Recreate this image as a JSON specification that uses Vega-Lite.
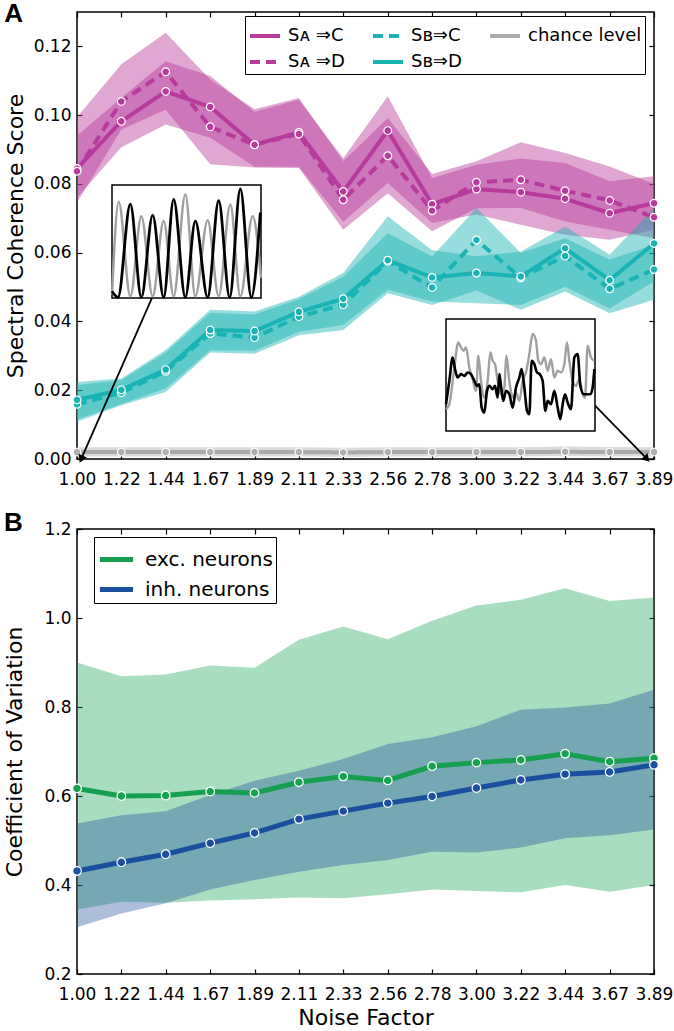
{
  "$schema": "https://vega.github.io/schema/vega-lite/v6.json",
  "background": "white",
  "padding": {"left": 3, "top": 0, "right": 0, "bottom": 0},
  "spacing": 21,
  "config": {
    "font": "DejaVu Sans",
    "view": {"stroke": "black", "strokeWidth": 1.5},
    "axis": {"domain": false, "grid": false, "tickColor": "black", "tickSize": -5, "tickWidth": 1.2, "labelFont": "DejaVu Sans", "labelFontSize": 17, "labelColor": "black", "titleFont": "DejaVu Sans", "titleFontSize": 22, "titleFontWeight": "normal", "titleColor": "black", "labelPadding": 11, "titlePadding": 6, "labelFlush": false, "labelOverlap": false},
    "legend": {"labelColor": "black", "labelFont": "DejaVu Sans", "zindex": 5},
    "title": {"font": "Liberation Sans", "fontSize": 26, "fontWeight": "bold", "anchor": "start", "frame": "bounds", "color": "black", "baseline": "alphabetic", "offset": 0, "dy": 20}
  },
  "datasets": {
    "A": [
      {"x":1,"s":"Sᴀ ⇒C","m":0.0845,"lo":0.076,"hi":0.094},
      {"x":1.222,"s":"Sᴀ ⇒C","m":0.0982,"lo":0.0907,"hi":0.105},
      {"x":1.444,"s":"Sᴀ ⇒C","m":0.1069,"lo":0.0973,"hi":0.1157},
      {"x":1.667,"s":"Sᴀ ⇒C","m":0.1024,"lo":0.0934,"hi":0.1114},
      {"x":1.889,"s":"Sᴀ ⇒C","m":0.0914,"lo":0.085,"hi":0.101},
      {"x":2.111,"s":"Sᴀ ⇒C","m":0.095,"lo":0.085,"hi":0.1045},
      {"x":2.333,"s":"Sᴀ ⇒C","m":0.0778,"lo":0.069,"hi":0.0875},
      {"x":2.556,"s":"Sᴀ ⇒C","m":0.0955,"lo":0.0803,"hi":0.1055},
      {"x":2.778,"s":"Sᴀ ⇒C","m":0.0741,"lo":0.0686,"hi":0.0817},
      {"x":3,"s":"Sᴀ ⇒C","m":0.0785,"lo":0.0711,"hi":0.0856},
      {"x":3.222,"s":"Sᴀ ⇒C","m":0.0776,"lo":0.0681,"hi":0.0874},
      {"x":3.444,"s":"Sᴀ ⇒C","m":0.0757,"lo":0.0652,"hi":0.0861},
      {"x":3.667,"s":"Sᴀ ⇒C","m":0.0715,"lo":0.0638,"hi":0.0808},
      {"x":3.889,"s":"Sᴀ ⇒C","m":0.0744,"lo":0.0667,"hi":0.0822},
      {"x":1,"s":"Sᴀ ⇒D","m":0.0837,"lo":0.0745,"hi":0.0994},
      {"x":1.222,"s":"Sᴀ ⇒D","m":0.104,"lo":0.0958,"hi":0.1148},
      {"x":1.444,"s":"Sᴀ ⇒D","m":0.1126,"lo":0.1016,"hi":0.124},
      {"x":1.667,"s":"Sᴀ ⇒D","m":0.0966,"lo":0.0857,"hi":0.1104},
      {"x":1.889,"s":"Sᴀ ⇒D","m":0.0914,"lo":0.0848,"hi":0.1017},
      {"x":2.111,"s":"Sᴀ ⇒D","m":0.0945,"lo":0.0846,"hi":0.105},
      {"x":2.333,"s":"Sᴀ ⇒D","m":0.0754,"lo":0.0667,"hi":0.0866},
      {"x":2.556,"s":"Sᴀ ⇒D","m":0.0882,"lo":0.0773,"hi":0.0992},
      {"x":2.778,"s":"Sᴀ ⇒D","m":0.0722,"lo":0.0662,"hi":0.0829},
      {"x":3,"s":"Sᴀ ⇒D","m":0.0805,"lo":0.0729,"hi":0.0866},
      {"x":3.222,"s":"Sᴀ ⇒D","m":0.0812,"lo":0.073,"hi":0.0921},
      {"x":3.444,"s":"Sᴀ ⇒D","m":0.078,"lo":0.0691,"hi":0.089},
      {"x":3.667,"s":"Sᴀ ⇒D","m":0.0752,"lo":0.0667,"hi":0.0851},
      {"x":3.889,"s":"Sᴀ ⇒D","m":0.0703,"lo":0.0642,"hi":0.08},
      {"x":1,"s":"Sʙ⇒C","m":0.0159,"lo":0.0108,"hi":0.0215},
      {"x":1.222,"s":"Sʙ⇒C","m":0.0193,"lo":0.0156,"hi":0.023},
      {"x":1.444,"s":"Sʙ⇒C","m":0.0255,"lo":0.0195,"hi":0.031},
      {"x":1.667,"s":"Sʙ⇒C","m":0.0365,"lo":0.031,"hi":0.0425},
      {"x":1.889,"s":"Sʙ⇒C","m":0.0353,"lo":0.0306,"hi":0.042},
      {"x":2.111,"s":"Sʙ⇒C","m":0.0414,"lo":0.036,"hi":0.0465},
      {"x":2.333,"s":"Sʙ⇒C","m":0.0449,"lo":0.0375,"hi":0.053},
      {"x":2.556,"s":"Sʙ⇒C","m":0.0575,"lo":0.0482,"hi":0.0657},
      {"x":2.778,"s":"Sʙ⇒C","m":0.0499,"lo":0.0448,"hi":0.0589},
      {"x":3,"s":"Sʙ⇒C","m":0.0637,"lo":0.049,"hi":0.073},
      {"x":3.222,"s":"Sʙ⇒C","m":0.0527,"lo":0.0434,"hi":0.06},
      {"x":3.444,"s":"Sʙ⇒C","m":0.059,"lo":0.0487,"hi":0.0642},
      {"x":3.667,"s":"Sʙ⇒C","m":0.0495,"lo":0.0424,"hi":0.058},
      {"x":3.889,"s":"Sʙ⇒C","m":0.0551,"lo":0.0463,"hi":0.0623},
      {"x":1,"s":"Sʙ⇒D","m":0.0172,"lo":0.0115,"hi":0.0224},
      {"x":1.222,"s":"Sʙ⇒D","m":0.0201,"lo":0.016,"hi":0.0234},
      {"x":1.444,"s":"Sʙ⇒D","m":0.026,"lo":0.0205,"hi":0.0317},
      {"x":1.667,"s":"Sʙ⇒D","m":0.0375,"lo":0.0316,"hi":0.0434},
      {"x":1.889,"s":"Sʙ⇒D","m":0.0372,"lo":0.0315,"hi":0.0429},
      {"x":2.111,"s":"Sʙ⇒D","m":0.0428,"lo":0.037,"hi":0.0472},
      {"x":2.333,"s":"Sʙ⇒D","m":0.0466,"lo":0.039,"hi":0.0541},
      {"x":2.556,"s":"Sʙ⇒D","m":0.0578,"lo":0.0492,"hi":0.0706},
      {"x":2.778,"s":"Sʙ⇒D","m":0.0528,"lo":0.0458,"hi":0.0607},
      {"x":3,"s":"Sʙ⇒D","m":0.0541,"lo":0.0453,"hi":0.059},
      {"x":3.222,"s":"Sʙ⇒D","m":0.0531,"lo":0.0448,"hi":0.0603},
      {"x":3.444,"s":"Sʙ⇒D","m":0.0613,"lo":0.0501,"hi":0.0676},
      {"x":3.667,"s":"Sʙ⇒D","m":0.052,"lo":0.0438,"hi":0.0594},
      {"x":3.889,"s":"Sʙ⇒D","m":0.0627,"lo":0.0516,"hi":0.073},
      {"x":1,"s":"chance level","m":0.002,"lo":0.0007,"hi":0.0034},
      {"x":1.222,"s":"chance level","m":0.002,"lo":0.0007,"hi":0.0034},
      {"x":1.444,"s":"chance level","m":0.002,"lo":0.0007,"hi":0.0034},
      {"x":1.667,"s":"chance level","m":0.002,"lo":0.0007,"hi":0.0034},
      {"x":1.889,"s":"chance level","m":0.002,"lo":0.0007,"hi":0.0034},
      {"x":2.111,"s":"chance level","m":0.002,"lo":0.0007,"hi":0.0034},
      {"x":2.333,"s":"chance level","m":0.0019,"lo":0.0006,"hi":0.0033},
      {"x":2.556,"s":"chance level","m":0.002,"lo":0.0007,"hi":0.0034},
      {"x":2.778,"s":"chance level","m":0.002,"lo":0.0007,"hi":0.0034},
      {"x":3,"s":"chance level","m":0.002,"lo":0.0007,"hi":0.0034},
      {"x":3.222,"s":"chance level","m":0.002,"lo":0.0007,"hi":0.0034},
      {"x":3.444,"s":"chance level","m":0.0021,"lo":0.0008,"hi":0.0036},
      {"x":3.667,"s":"chance level","m":0.002,"lo":0.0007,"hi":0.0035},
      {"x":3.889,"s":"chance level","m":0.002,"lo":0.0007,"hi":0.0034}
    ],
    "arr": [
      {"a":1,"x":1.376,"y":0.0469,"x2":1.0235,"y2":0.0003},
      {"a":2,"x":3.594,"y":0.0155,"x2":3.849,"y2":0.0003}
    ],
    "in1": [
      {"tr":"g","t":0,"v":10},{"tr":"g","t":20,"v":287},{"tr":"g","t":55,"v":5},{"tr":"g","t":88,"v":244},{"tr":"g","t":122,"v":5},{"tr":"g","t":155,"v":230},{"tr":"g","t":185,"v":5},{"tr":"g","t":220,"v":309},{"tr":"g","t":250,"v":5},{"tr":"g","t":287,"v":232},{"tr":"g","t":320,"v":5},{"tr":"g","t":355,"v":279},{"tr":"g","t":385,"v":5},{"tr":"g","t":422,"v":244},{"tr":"g","t":447,"v":60},
      {"tr":"k","t":0,"v":20},{"tr":"k","t":18,"v":2},{"tr":"k","t":55,"v":280},{"tr":"k","t":88,"v":2},{"tr":"k","t":122,"v":247},{"tr":"k","t":155,"v":2},{"tr":"k","t":185,"v":294},{"tr":"k","t":220,"v":2},{"tr":"k","t":250,"v":229},{"tr":"k","t":287,"v":2},{"tr":"k","t":320,"v":290},{"tr":"k","t":353,"v":2},{"tr":"k","t":385,"v":325},{"tr":"k","t":418,"v":2},{"tr":"k","t":445,"v":255}
    ],
    "in2": [
      {"tr":"g","t":0,"v":65},{"tr":"g","t":10,"v":80},{"tr":"g","t":25,"v":190},{"tr":"g","t":37,"v":265},{"tr":"g","t":45,"v":250},{"tr":"g","t":53,"v":240},{"tr":"g","t":60,"v":250},{"tr":"g","t":70,"v":190},{"tr":"g","t":80,"v":155},{"tr":"g","t":90,"v":120},{"tr":"g","t":97,"v":225},{"tr":"g","t":105,"v":150},{"tr":"g","t":115,"v":100},{"tr":"g","t":125,"v":150},{"tr":"g","t":133,"v":235},{"tr":"g","t":140,"v":210},{"tr":"g","t":147,"v":200},{"tr":"g","t":155,"v":150},{"tr":"g","t":165,"v":110},{"tr":"g","t":175,"v":130},{"tr":"g","t":181,"v":225},{"tr":"g","t":190,"v":150},{"tr":"g","t":200,"v":100},{"tr":"g","t":210,"v":115},{"tr":"g","t":220,"v":90},{"tr":"g","t":230,"v":150},{"tr":"g","t":240,"v":175},{"tr":"g","t":250,"v":230},{"tr":"g","t":260,"v":290},{"tr":"g","t":270,"v":270},{"tr":"g","t":277,"v":210},{"tr":"g","t":285,"v":200},{"tr":"g","t":295,"v":220},{"tr":"g","t":305,"v":180},{"tr":"g","t":315,"v":215},{"tr":"g","t":325,"v":160},{"tr":"g","t":335,"v":180},{"tr":"g","t":345,"v":175},{"tr":"g","t":355,"v":200},{"tr":"g","t":363,"v":265},{"tr":"g","t":370,"v":210},{"tr":"g","t":380,"v":150},{"tr":"g","t":390,"v":135},{"tr":"g","t":400,"v":155},{"tr":"g","t":410,"v":110},{"tr":"g","t":417,"v":100},{"tr":"g","t":425,"v":255},{"tr":"g","t":435,"v":220},{"tr":"g","t":445,"v":210},
      {"tr":"k","t":0,"v":80},{"tr":"k","t":10,"v":150},{"tr":"k","t":20,"v":220},{"tr":"k","t":27,"v":185},{"tr":"k","t":35,"v":160},{"tr":"k","t":45,"v":170},{"tr":"k","t":55,"v":165},{"tr":"k","t":65,"v":175},{"tr":"k","t":75,"v":170},{"tr":"k","t":85,"v":150},{"tr":"k","t":93,"v":135},{"tr":"k","t":100,"v":140},{"tr":"k","t":107,"v":70},{"tr":"k","t":115,"v":55},{"tr":"k","t":123,"v":120},{"tr":"k","t":130,"v":135},{"tr":"k","t":140,"v":125},{"tr":"k","t":147,"v":135},{"tr":"k","t":155,"v":100},{"tr":"k","t":160,"v":170},{"tr":"k","t":165,"v":135},{"tr":"k","t":172,"v":90},{"tr":"k","t":180,"v":120},{"tr":"k","t":190,"v":110},{"tr":"k","t":200,"v":70},{"tr":"k","t":210,"v":130},{"tr":"k","t":220,"v":160},{"tr":"k","t":227,"v":185},{"tr":"k","t":235,"v":130},{"tr":"k","t":243,"v":60},{"tr":"k","t":250,"v":50},{"tr":"k","t":257,"v":210},{"tr":"k","t":265,"v":200},{"tr":"k","t":273,"v":175},{"tr":"k","t":281,"v":170},{"tr":"k","t":290,"v":150},{"tr":"k","t":298,"v":60},{"tr":"k","t":305,"v":90},{"tr":"k","t":315,"v":80},{"tr":"k","t":325,"v":120},{"tr":"k","t":335,"v":70},{"tr":"k","t":343,"v":35},{"tr":"k","t":350,"v":80},{"tr":"k","t":357,"v":110},{"tr":"k","t":365,"v":85},{"tr":"k","t":375,"v":65},{"tr":"k","t":385,"v":220},{"tr":"k","t":395,"v":230},{"tr":"k","t":403,"v":135},{"tr":"k","t":413,"v":110},{"tr":"k","t":423,"v":110},{"tr":"k","t":433,"v":110},{"tr":"k","t":440,"v":130},{"tr":"k","t":445,"v":185}
    ],
    "B": [
      {"x":1,"g":"exc. neurons","m":0.617,"lo":0.345,"hi":0.9},
      {"x":1.222,"g":"exc. neurons","m":0.6,"lo":0.3625,"hi":0.869},
      {"x":1.444,"g":"exc. neurons","m":0.601,"lo":0.36,"hi":0.873},
      {"x":1.667,"g":"exc. neurons","m":0.61,"lo":0.365,"hi":0.893},
      {"x":1.889,"g":"exc. neurons","m":0.607,"lo":0.368,"hi":0.888},
      {"x":2.111,"g":"exc. neurons","m":0.631,"lo":0.372,"hi":0.951},
      {"x":2.333,"g":"exc. neurons","m":0.644,"lo":0.37,"hi":0.981},
      {"x":2.556,"g":"exc. neurons","m":0.635,"lo":0.379,"hi":0.952},
      {"x":2.778,"g":"exc. neurons","m":0.667,"lo":0.39,"hi":0.994},
      {"x":3,"g":"exc. neurons","m":0.675,"lo":0.3865,"hi":1.028},
      {"x":3.222,"g":"exc. neurons","m":0.681,"lo":0.3835,"hi":1.041},
      {"x":3.444,"g":"exc. neurons","m":0.695,"lo":0.4,"hi":1.067},
      {"x":3.667,"g":"exc. neurons","m":0.677,"lo":0.385,"hi":1.038},
      {"x":3.889,"g":"exc. neurons","m":0.685,"lo":0.4,"hi":1.046},
      {"x":1,"g":"inh. neurons","m":0.4315,"lo":0.305,"hi":0.538},
      {"x":1.222,"g":"inh. neurons","m":0.451,"lo":0.336,"hi":0.557},
      {"x":1.444,"g":"inh. neurons","m":0.469,"lo":0.359,"hi":0.566},
      {"x":1.667,"g":"inh. neurons","m":0.494,"lo":0.39,"hi":0.602},
      {"x":1.889,"g":"inh. neurons","m":0.517,"lo":0.411,"hi":0.634},
      {"x":2.111,"g":"inh. neurons","m":0.548,"lo":0.43,"hi":0.657},
      {"x":2.333,"g":"inh. neurons","m":0.566,"lo":0.445,"hi":0.683},
      {"x":2.556,"g":"inh. neurons","m":0.584,"lo":0.456,"hi":0.717},
      {"x":2.778,"g":"inh. neurons","m":0.599,"lo":0.475,"hi":0.732},
      {"x":3,"g":"inh. neurons","m":0.618,"lo":0.473,"hi":0.757},
      {"x":3.222,"g":"inh. neurons","m":0.636,"lo":0.484,"hi":0.794},
      {"x":3.444,"g":"inh. neurons","m":0.649,"lo":0.505,"hi":0.799},
      {"x":3.667,"g":"inh. neurons","m":0.654,"lo":0.512,"hi":0.808},
      {"x":3.889,"g":"inh. neurons","m":0.67,"lo":0.525,"hi":0.839}
    ]
  },
  "vconcat": [
    {
      "width": 577,
      "height": 447,
      "title": {"text": "A"},
      "resolve": {"scale": {"x": "independent", "y": "independent"}},
      "layer": [
        {
          "resolve": {"axis": {"x": "independent", "y": "independent"}},
          "layer": [
            {
              "data": {"name": "A"},
              "mark": {"type": "area", "opacity": 0.45},
              "encoding": {
                "x": {"field": "x", "type": "quantitative", "scale": {"domain": [1, 3.889], "nice": false, "zero": false}, "axis": {"orient": "bottom", "values": [1,1.222,1.444,1.667,1.889,2.111,2.333,2.556,2.778,3,3.222,3.444,3.667,3.889], "format": ".2f", "title": null, "labelPadding": 17}},
                "y": {"field": "lo", "type": "quantitative", "scale": {"domain": [0, 0.13], "nice": false, "zero": false}, "axis": {"orient": "left", "values": [0,0.02,0.04,0.06,0.08,0.1,0.12], "format": ".2f", "title": "Spectral Coherence Score", "titlePadding": 6}},
                "y2": {"field": "hi"},
                "fill": {"field": "s", "type": "nominal", "scale": {"domain": ["Sᴀ ⇒C", "Sᴀ ⇒D", "Sʙ⇒C", "Sʙ⇒D", "chance level", "exc. neurons", "inh. neurons"], "range": ["#b83b9c", "#b83b9c", "#1ab3b3", "#1ab3b3", "#b0b0b0", "#17a251", "#1d4f9e"]}, "legend": null}
              }
            },
            {
              "data": {"name": "A"},
              "mark": {"type": "line", "strokeWidth": 4},
              "encoding": {
                "x": {"field": "x", "type": "quantitative", "axis": {"orient": "top", "values": [1,1.222,1.444,1.667,1.889,2.111,2.333,2.556,2.778,3,3.222,3.444,3.667,3.889], "labels": false, "title": null}},
                "y": {"field": "m", "type": "quantitative", "axis": {"orient": "right", "values": [0,0.02,0.04,0.06,0.08,0.1,0.12], "labels": false, "title": null}},
                "color": {"field": "s", "type": "nominal", "scale": {"domain": ["Sᴀ ⇒C", "Sᴀ ⇒D", "Sʙ⇒C", "Sʙ⇒D", "chance level"], "range": ["#b83b9c", "#b83b9c", "#1ab3b3", "#1ab3b3", "#aaaaaa"]},
                  "legend": {"title": null, "orient": "none", "legendX": 168, "legendY": 4, "columns": 3, "columnPadding": 20, "rowPadding": 0, "padding": 3, "strokeColor": "black", "fillColor": "white", "labelFontSize": 18, "symbolType": "stroke", "symbolSize": 900, "symbolStrokeWidth": 4, "labelOffset": 6}},
                "strokeDash": {"field": "s", "type": "nominal", "scale": {"domain": ["Sᴀ ⇒C", "Sᴀ ⇒D", "Sʙ⇒C", "Sʙ⇒D", "chance level"], "range": [[1,0],[10,6],[10,6],[1,0],[1,0]]},
                  "legend": {"title": null, "orient": "none", "legendX": 168, "legendY": 4, "columns": 3, "columnPadding": 20, "rowPadding": 0, "padding": 3, "strokeColor": "black", "fillColor": "white", "labelFontSize": 18, "symbolType": "stroke", "symbolSize": 900, "symbolStrokeWidth": 4, "labelOffset": 6}}
              }
            },
            {
              "data": {"name": "A"},
              "mark": {"type": "point", "filled": true, "size": 60, "stroke": "white", "strokeWidth": 1.2, "opacity": 1},
              "encoding": {
                "x": {"field": "x", "type": "quantitative", "axis": null},
                "y": {"field": "m", "type": "quantitative", "axis": null},
                "fill": {"field": "s", "type": "nominal", "legend": null}
              }
            },
            {
              "data": {"name": "arr"},
              "mark": {"type": "rule", "color": "black", "strokeWidth": 1.8},
              "encoding": {
                "x": {"field": "x", "type": "quantitative", "axis": null},
                "y": {"field": "y", "type": "quantitative", "axis": null},
                "x2": {"field": "x2"},
                "y2": {"field": "y2"}
              }
            },
            {
              "data": {"name": "arr"},
              "transform": [{"filter": "datum.a == 1"}],
              "mark": {"type": "point", "shape": "triangle", "filled": true, "color": "black", "opacity": 1, "size": 80, "angle": 203.5},
              "encoding": {
                "x": {"field": "x2", "type": "quantitative", "axis": null},
                "y": {"field": "y2", "type": "quantitative", "axis": null}
              }
            },
            {
              "data": {"name": "arr"},
              "transform": [{"filter": "datum.a == 2"}],
              "mark": {"type": "point", "shape": "triangle", "filled": true, "color": "black", "opacity": 1, "size": 80, "angle": 135.7},
              "encoding": {
                "x": {"field": "x2", "type": "quantitative", "axis": null},
                "y": {"field": "y2", "type": "quantitative", "axis": null}
              }
            }
          ]
        },
        {
          "layer": [
            {
              "data": {"values": [{}]},
              "mark": {"type": "rect", "fill": "white", "stroke": "black", "strokeWidth": 1.5},
              "encoding": {
                "x": {"datum": 0, "type": "quantitative", "scale": {"domain": [0, 447], "range": [35, 184], "nice": false, "zero": false}, "axis": null},
                "x2": {"datum": 447},
                "y": {"datum": 0, "type": "quantitative", "scale": {"domain": [0, 337], "range": [286, 173], "nice": false, "zero": false}, "axis": null},
                "y2": {"datum": 337}
              }
            },
            {
              "data": {"name": "in1"},
              "transform": [{"filter": "datum.tr == 'g'"}],
              "mark": {"type": "line", "color": "#a0a0a0", "strokeWidth": 2.5, "interpolate": "monotone"},
              "encoding": {"x": {"field": "t", "type": "quantitative", "axis": null}, "y": {"field": "v", "type": "quantitative", "axis": null}}
            },
            {
              "data": {"name": "in1"},
              "transform": [{"filter": "datum.tr == 'k'"}],
              "mark": {"type": "line", "color": "black", "strokeWidth": 2.8, "interpolate": "monotone"},
              "encoding": {"x": {"field": "t", "type": "quantitative", "axis": null}, "y": {"field": "v", "type": "quantitative", "axis": null}}
            }
          ]
        },
        {
          "layer": [
            {
              "data": {"values": [{}]},
              "mark": {"type": "rect", "fill": "white", "stroke": "black", "strokeWidth": 1.5},
              "encoding": {
                "x": {"datum": 0, "type": "quantitative", "scale": {"domain": [0, 447], "range": [369, 518], "nice": false, "zero": false}, "axis": null},
                "x2": {"datum": 447},
                "y": {"datum": 0, "type": "quantitative", "scale": {"domain": [0, 335], "range": [419, 307], "nice": false, "zero": false}, "axis": null},
                "y2": {"datum": 335}
              }
            },
            {
              "data": {"name": "in2"},
              "transform": [{"filter": "datum.tr == 'g'"}],
              "mark": {"type": "line", "color": "#a0a0a0", "strokeWidth": 2.4, "interpolate": "monotone"},
              "encoding": {"x": {"field": "t", "type": "quantitative", "axis": null}, "y": {"field": "v", "type": "quantitative", "axis": null}}
            },
            {
              "data": {"name": "in2"},
              "transform": [{"filter": "datum.tr == 'k'"}],
              "mark": {"type": "line", "color": "black", "strokeWidth": 2.6, "interpolate": "monotone"},
              "encoding": {"x": {"field": "t", "type": "quantitative", "axis": null}, "y": {"field": "v", "type": "quantitative", "axis": null}}
            }
          ]
        }
      ]
    },
    {
      "width": 577,
      "height": 445,
      "title": {"text": "B"},
      "data": {"name": "B"},
      "resolve": {"axis": {"x": "independent", "y": "independent"}},
      "layer": [
        {
          "mark": {"type": "area", "opacity": 0.37},
          "encoding": {
            "x": {"field": "x", "type": "quantitative", "scale": {"domain": [1, 3.889], "nice": false, "zero": false}, "axis": {"orient": "bottom", "values": [1,1.222,1.444,1.667,1.889,2.111,2.333,2.556,2.778,3,3.222,3.444,3.667,3.889], "format": ".2f", "title": "Noise Factor", "titlePadding": 5, "labelPadding": 17}},
            "y": {"field": "lo", "type": "quantitative", "scale": {"domain": [0.2, 1.2], "nice": false, "zero": false}, "axis": {"orient": "left", "values": [0.2,0.4,0.6,0.8,1.0,1.2], "format": ".1f", "title": "Coefficient of Variation", "titlePadding": 17}},
            "y2": {"field": "hi"},
            "fill": {"field": "g", "type": "nominal", "legend": null}
          }
        },
        {
          "mark": {"type": "line", "strokeWidth": 5},
          "encoding": {
            "x": {"field": "x", "type": "quantitative", "axis": {"orient": "top", "values": [1,1.222,1.444,1.667,1.889,2.111,2.333,2.556,2.778,3,3.222,3.444,3.667,3.889], "labels": false, "title": null}},
            "y": {"field": "m", "type": "quantitative", "axis": {"orient": "right", "values": [0.2,0.4,0.6,0.8,1.0,1.2], "labels": false, "title": null}},
            "stroke": {"field": "g", "type": "nominal", "scale": {"domain": ["exc. neurons", "inh. neurons"], "range": ["#14a04f", "#1a4f9f"]},
              "legend": {"title": null, "orient": "none", "legendX": 17, "legendY": 525, "padding": 3, "rowPadding": 0, "strokeColor": "black", "fillColor": "white", "labelFontSize": 20, "symbolType": "stroke", "symbolSize": 1100, "symbolStrokeWidth": 5, "labelOffset": 9}}
          }
        },
        {
          "mark": {"type": "point", "filled": true, "size": 75, "stroke": "white", "strokeWidth": 1.2, "opacity": 1},
          "encoding": {
            "x": {"field": "x", "type": "quantitative", "axis": null},
            "y": {"field": "m", "type": "quantitative", "axis": null},
            "fill": {"field": "g", "type": "nominal", "legend": null}
          }
        }
      ]
    }
  ]
}
